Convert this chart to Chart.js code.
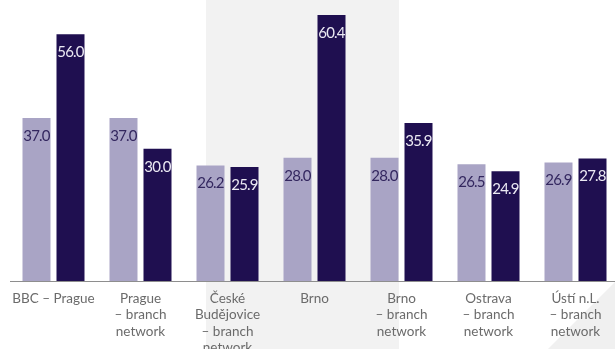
<!DOCTYPE html>
<html>
<head>
<meta charset="utf-8">
<script src="https://cdn.jsdelivr.net/npm/chart.js@4/dist/chart.umd.min.js"></script>
<style>
html,body{margin:0;padding:0;background:#ffffff;overflow:hidden;width:615px;height:349px;}
#wrap{position:absolute;left:0;top:0;width:619px;height:349px;}
</style>
</head>
<body>
<div id="wrap"><canvas id="c" width="619" height="349"></canvas></div>
<script>
const categories = [
  ['BBC – Prague'],
  ['Prague', '– branch', 'network'],
  ['České', 'Budějovice', '– branch', 'network'],
  ['Brno'],
  ['Brno', '– branch', 'network'],
  ['Ostrava', '– branch', 'network'],
  ['Ústí n.L.', '– branch', 'network']
];
const seriesLight = [37.0, 37.0, 26.2, 28.0, 28.0, 26.5, 26.9];
const seriesDark  = [56.0, 30.0, 25.9, 60.4, 35.9, 24.9, 27.8];

const FONT = 'Lato, "Open Sans", sans-serif';

const backgroundPlugin = {
  id: 'bgDeco',
  beforeDatasetsDraw(chart) {
    const ctx = chart.ctx;
    const h = chart.height;
    ctx.save();
    ctx.fillStyle = '#f2f2f2';
    ctx.fillRect(206, 0, 193, h);
    ctx.beginPath();
    ctx.moveTo(547, h + 1);
    ctx.lineTo(622, h + 1);
    ctx.lineTo(622, 275);
    ctx.closePath();
    ctx.fillStyle = '#f0f0f0';
    ctx.fill();
    ctx.restore();
  }
};

const labelPlugin = {
  id: 'barLabels',
  afterDatasetsDraw(chart) {
    const ctx = chart.ctx;
    ctx.save();
    ctx.font = '15px ' + FONT;
    ctx.textAlign = 'center';
    ctx.textBaseline = 'middle';
    try { ctx.letterSpacing = '-0.8px'; } catch (e) {}
    chart.data.datasets.forEach((ds, di) => {
      const meta = chart.getDatasetMeta(di);
      meta.data.forEach((bar, i) => {
        ctx.fillStyle = ds.labelColor;
        ctx.fillText(ds.data[i].toFixed(1), bar.x, bar.y + 18);
      });
    });
    ctx.restore();
  }
};

new Chart(document.getElementById('c'), {
  type: 'bar',
  data: {
    labels: categories,
    datasets: [
      { label: 'Series 1', data: seriesLight, backgroundColor: '#a9a4c5', labelColor: '#33275f',
        categoryPercentage: 0.7816, barPercentage: 0.8235 },
      { label: 'Series 2', data: seriesDark, backgroundColor: '#1f0f50', labelColor: '#ebe9f3',
        categoryPercentage: 0.7816, barPercentage: 0.8235 }
    ]
  },
  options: {
    responsive: false,
    animation: false,
    devicePixelRatio: 1,
    layout: { padding: { left: 10, right: 0, top: 0, bottom: 0 } },
    plugins: { legend: { display: false }, tooltip: { enabled: false } },
    scales: {
      x: {
        grid: { display: false, drawTicks: false },
        border: { display: true, color: '#8e8e8e', width: 1, z: 1 },
        ticks: {
          z: 1,
          color: '#6b6b6b',
          font: { family: FONT, size: 13.5, lineHeight: 1.19 },
          padding: 10,
          maxRotation: 0,
          autoSkip: false
        },
        afterFit(scale) { scale.height = 68; }
      },
      y: {
        display: false,
        min: 0,
        max: 63.8
      }
    }
  },
  plugins: [backgroundPlugin, labelPlugin]
});
</script>
</body>
</html>
